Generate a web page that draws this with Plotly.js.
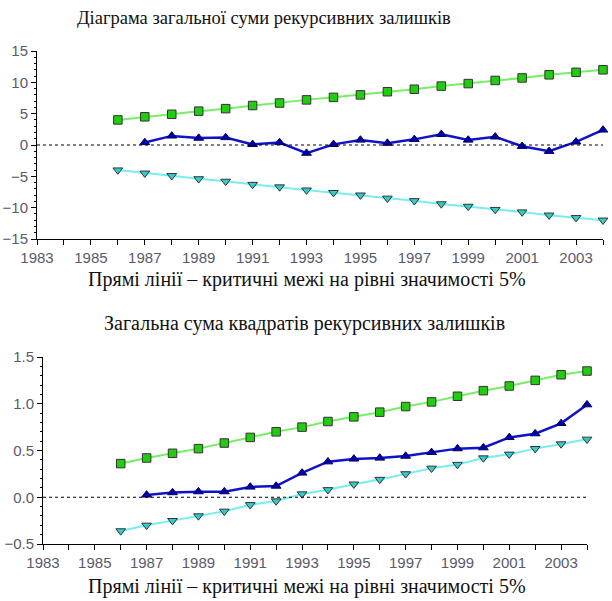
<!DOCTYPE html>
<html>
<head>
<meta charset="utf-8">
<script src="https://cdn.plot.ly/plotly-3.0.1.min.js"></script>
<style>html,body{margin:0;padding:0;background:#fff;}#chart{width:612px;height:601px;}</style>
</head>
<body>
<div id="chart"></div>
<script>
// Top chart: CUSUM
var yearsBounds = [1986,1987,1988,1989,1990,1991,1992,1993,1994,1995,1996,1997,1998,1999,2000,2001,2002,2003,2004];
var yearsStat = [1987,1988,1989,1990,1991,1992,1993,1994,1995,1996,1997,1998,1999,2000,2001,2002,2003,2004];
var cusumUpper = [4.0,4.5,4.9,5.4,5.8,6.3,6.7,7.2,7.6,8.0,8.5,8.9,9.4,9.8,10.3,10.7,11.2,11.6,12.0];
var cusumLower = [-4.0,-4.5,-4.9,-5.4,-5.8,-6.3,-6.7,-7.2,-7.6,-8.0,-8.5,-8.9,-9.4,-9.8,-10.3,-10.7,-11.2,-11.6,-12.0];
var cusum = [0.4,1.45,1.1,1.2,0.1,0.4,-1.3,0.1,0.8,0.3,0.9,1.7,0.8,1.3,-0.2,-1.0,0.5,2.4];

// Bottom chart: CUSUM of squares
var sqUpper = [0.36,0.42,0.47,0.52,0.58,0.64,0.70,0.75,0.81,0.86,0.91,0.97,1.02,1.08,1.14,1.19,1.25,1.31,1.35];
var sqLower = [-0.36,-0.30,-0.25,-0.20,-0.15,-0.08,-0.04,0.035,0.08,0.14,0.19,0.25,0.31,0.35,0.42,0.46,0.52,0.57,0.62];
var cusumSq = [0.025,0.05,0.06,0.06,0.11,0.12,0.26,0.38,0.41,0.42,0.44,0.48,0.52,0.53,0.64,0.68,0.79,0.99];

var title1 = "Діаграма загальної суми рекурсивних залишків";
var title2 = "Загальна сума квадратів рекурсивних залишків";
var caption = "Прямі лінії – критичні межі на рівні значимості 5%";

function upperTrace(x, y, xa, ya) {
  return {x: x, y: y, xaxis: xa, yaxis: ya, type: 'scatter', mode: 'lines+markers', cliponaxis: false,
    line: {color: '#77ee66', width: 2},
    marker: {symbol: 'square', size: 8.5, color: '#22cc11', line: {color: '#333333', width: 1}},
    showlegend: false, hoverinfo: 'x+y'};
}
function lowerTrace(x, y, xa, ya) {
  return {x: x, y: y, xaxis: xa, yaxis: ya, type: 'scatter', mode: 'lines+markers', cliponaxis: false,
    line: {color: '#77eeee', width: 2},
    marker: {symbol: 'triangle-down', size: 8.5, color: '#33cccc', line: {color: '#333333', width: 1}},
    showlegend: false, hoverinfo: 'x+y'};
}
function statTrace(x, y, xa, ya) {
  return {x: x, y: y, xaxis: xa, yaxis: ya, type: 'scatter', mode: 'lines+markers', cliponaxis: false,
    line: {color: '#1111cc', width: 2.5},
    marker: {symbol: 'triangle-up', size: 8.5, color: '#0000aa', line: {color: '#000066', width: 1}},
    showlegend: false, hoverinfo: 'x+y'};
}

var data = [
  upperTrace(yearsBounds, cusumUpper, 'x', 'y'),
  lowerTrace(yearsBounds, cusumLower, 'x', 'y'),
  statTrace(yearsStat, cusum, 'x', 'y'),
  upperTrace(yearsBounds, sqUpper, 'x2', 'y2'),
  lowerTrace(yearsBounds, sqLower, 'x2', 'y2'),
  statTrace(yearsStat, cusumSq, 'x2', 'y2')
];

var tickFont = {family: 'Liberation Sans, Arial, sans-serif', size: 15, color: '#5a5a6a'};
function xAxis(domain, anchor) {
  return {domain: domain, anchor: anchor, range: [1983, 2004], tick0: 1983, dtick: 2,
    showgrid: false, zeroline: false, showline: true, linecolor: '#000', linewidth: 1,
    ticks: 'outside', ticklen: 5, tickcolor: '#000', tickfont: tickFont,
    minor: {dtick: 1, tick0: 1983, ticks: 'outside', ticklen: 5, tickcolor: '#000', showgrid: false}};
}
function yAxis(domain, anchor, range, dtick, minorDtick, fmt) {
  return {domain: domain, anchor: anchor, range: range, dtick: dtick, tick0: range[0],
    showgrid: false, zeroline: false, showline: true, linecolor: '#000', linewidth: 1,
    ticks: 'outside', ticklen: 5, tickcolor: '#000', tickfont: tickFont, tickformat: fmt,
    minor: {dtick: minorDtick, ticks: 'outside', ticklen: 2, tickcolor: '#000', showgrid: false}};
}

var serifFam = 'Liberation Serif, Times New Roman, serif';

var layout = {
  width: 612, height: 601,
  margin: {l: 0, r: 0, t: 0, b: 0},
  paper_bgcolor: '#fff', plot_bgcolor: '#fff',
  showlegend: false,
  xaxis: xAxis([37/612, 603/612], 'y'),
  yaxis: yAxis([1 - 239/601, 1 - 51/601], 'x', [-15, 15], 5, 1, 'd'),
  xaxis2: xAxis([43/612, 587/612], 'y2'),
  yaxis2: yAxis([1 - 544/601, 1 - 357/601], 'x2', [-0.5, 1.5], 0.5, 0.1, '.1f'),
  shapes: [
    {type: 'line', xref: 'x', yref: 'y', x0: 1983, x1: 2004, y0: 0, y1: 0, line: {color: '#000', width: 1, dash: 'dot'}},
    {type: 'line', xref: 'x2', yref: 'y2', x0: 1983, x1: 2004, y0: 0, y1: 0, line: {color: '#000', width: 1, dash: 'dot'}}
  ],
  annotations: [
    {text: title1, xref: 'paper', yref: 'paper', x: 264/612, y: 1 - 18/601, xanchor: 'center', yanchor: 'middle', showarrow: false, font: {family: serifFam, size: 18.5, color: '#111'}},
    {text: caption, xref: 'paper', yref: 'paper', x: 307/612, y: 1 - 279/601, xanchor: 'center', yanchor: 'middle', showarrow: false, font: {family: serifFam, size: 20, color: '#111'}},
    {text: title2, xref: 'paper', yref: 'paper', x: 304/612, y: 1 - 323/601, xanchor: 'center', yanchor: 'middle', showarrow: false, font: {family: serifFam, size: 20, color: '#111'}},
    {text: caption, xref: 'paper', yref: 'paper', x: 307/612, y: 1 - 586/601, xanchor: 'center', yanchor: 'middle', showarrow: false, font: {family: serifFam, size: 20, color: '#111'}}
  ]
};

Plotly.newPlot('chart', data, layout, {displayModeBar: false, staticPlot: true});
</script>
</body>
</html>
